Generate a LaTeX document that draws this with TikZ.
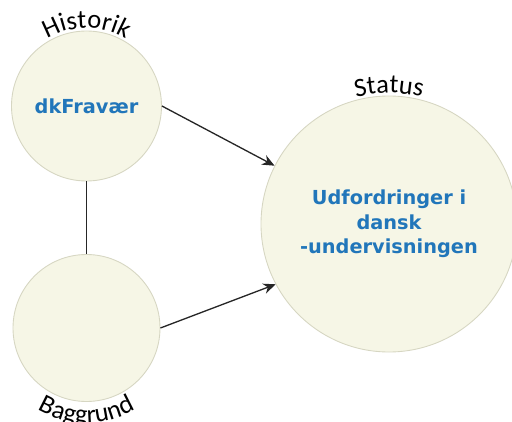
\documentclass[tikz,border=0pt]{standalone}
\usepackage{fontspec}
\setmainfont{DejaVu Sans}
\newfontfamily\labelfont{Carlito}
\usetikzlibrary{arrows.meta,decorations.text}
\definecolor{bubblefill}{RGB}{246,246,230}
\definecolor{bubbleline}{RGB}{214,214,194}
\definecolor{topicblue}{RGB}{33,118,186}
\newcommand{\arclabel}{\labelfont\fontsize{15}{17}\selectfont}

\begin{document}
\begin{tikzpicture}
  \tikzstyle{bubble}=[circle, draw=bubbleline, fill=bubblefill, line width=0.5pt, inner sep=0pt, align=center, text=topicblue, font=\fontsize{11}{14}\selectfont\bfseries]
  \tikzstyle{link}=[draw=black!85, line width=0.75pt]
  \tikzstyle{linkarrow}=[link, -{Stealth[length=7pt,width=6pt]}]
  \useasboundingbox (0,0) rectangle (10.24,8.42);
  \node[bubble, minimum size=3cm] (hist) at (1.73,6.30) {dkFravær};
  \node[bubble, minimum size=2.94cm] (bagg) at (1.73,1.86) {};
  \node[bubble, minimum size=5.12cm] (status) at (7.78,3.94) {Udfordringer i\\dansk\\-undervisningen};
  \draw[link] (hist.south) -- (bagg.north);
  \draw[linkarrow] (hist.east) -- (status.153);
  \draw[linkarrow] (bagg.east) -- (status.208);
  \path[decorate, decoration={text along path, text align=center, text={|\arclabel|Historik}}]
    ([shift={(150:1.56)}]hist.center) arc[start angle=150, end angle=30, radius=1.56];
  \path[decorate, decoration={text along path, text align=center, text={|\arclabel|Baggrund}}]
    ([shift={(225:1.9)}]bagg.center) arc[start angle=225, end angle=315, radius=1.9];
  \path[decorate, decoration={text along path, text align=center, text={|\arclabel|Status}}]
    ([shift={(120:2.62)}]status.center) arc[start angle=120, end angle=60, radius=2.62];
\end{tikzpicture}
\end{document}
